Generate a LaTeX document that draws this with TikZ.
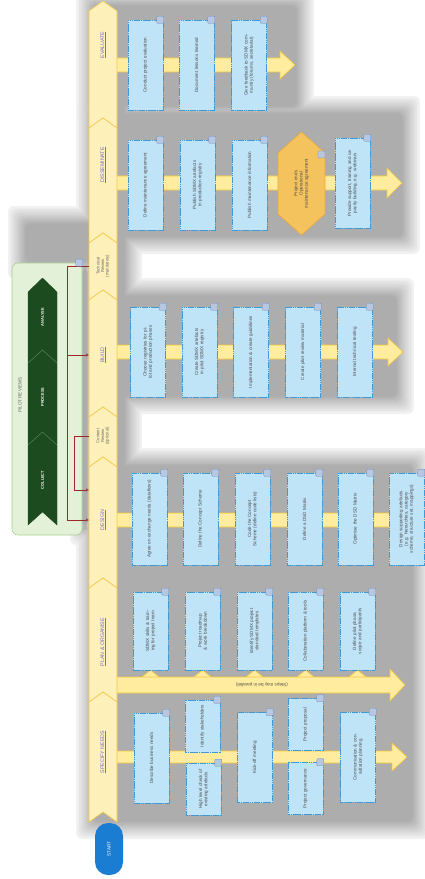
\documentclass[tikz,border=0pt]{standalone}
\usepackage{fontspec}
\setmainfont{Liberation Sans}
\usetikzlibrary{arrows.meta}
\definecolor{barfill}{HTML}{FDF1B9}
\definecolor{barline}{HTML}{F3C94A}
\definecolor{flowfill}{HTML}{FFEC9E}
\definecolor{flowline}{HTML}{F5C63E}
\definecolor{tilefill}{HTML}{BFE3F7}
\definecolor{tileline}{HTML}{3C9AD9}
\definecolor{hexfill}{HTML}{F4C35E}
\definecolor{hexline}{HTML}{E9AA3A}
\definecolor{phasetext}{HTML}{7C6AD0}
\definecolor{pilotfill}{HTML}{E3F1D8}
\definecolor{pilotline}{HTML}{A6CF8B}
\definecolor{chevfill}{HTML}{1D4B20}
\definecolor{chevline}{HTML}{5C8A55}
\definecolor{linkred}{HTML}{9A2A2A}
\definecolor{startblue}{HTML}{1B7DD2}
\definecolor{iconfill}{HTML}{B7C7E2}
\definecolor{iconline}{HTML}{6E86B5}
\begin{document}
\begin{tikzpicture}
  [x=0.05cm, y=-0.05cm,
   barseg/.style={fill=barfill, draw=barline, line width=0.9pt},
   flow/.style={fill=flowfill, draw=flowline, line width=0.9pt},
   phase/.style={rotate=90, minimum height=1.4cm, inner sep=0pt, text=phasetext, font=\fontsize{7.5}{8}\selectfont},
   review/.style={rotate=90, minimum height=1.4cm, inner sep=0pt, align=center, text=black!60, font=\fontsize{6}{6.5}\selectfont},
   tile/.style={rotate=90, fill=tilefill, draw=tileline, line width=0.9pt, dash pattern=on 2pt off 0.6pt, minimum width=4.5cm, minimum height=1.75cm, text width=4cm, align=center, inner sep=1pt, text=black!70, font=\fontsize{6.5}{7.5}\selectfont},
   short/.style={minimum width=2.6cm, text width=2.3cm},
   icon/.style={fill=iconfill, draw=iconline, line width=0.4pt, rounded corners=1pt},
   link/.style={draw=linkred, line width=0.7pt},
   tip/.style={-{Triangle[length=4pt, width=4.5pt, fill=pink!60]}},
   stage/.style={rotate=90, text=white, font=\fontsize{5.5}{6}\selectfont\bfseries}]

  \useasboundingbox (0,0) rectangle (424,879);

  \foreach \k [evaluate=\k as \g using int(5+2.5*\k)] in {0,...,11}
    \foreach \xa/\ya/\xb/\yb in {76/-12/314/124, 76/96/420/254, 8/206/142/279, 70/250/100/545, 76/278/414/414, 76/448/430/839, 84/-12/142/839}
      \fill[black!\g, rounded corners=0.3cm] (\xa+1.6*\k,\ya+1.6*\k) rectangle (\xb-1.6*\k,\yb-1.6*\k);

  \foreach \y/\tip/\s/\h in {65/295/7/14, 183/402/7/15, 352/403/7/14, 520/430/7/14, 757/407/6/14}
    \filldraw[flow] (112,\y-\s) -- (\tip-15,\y-\s) -- (\tip-15,\y-\h) -- (\tip,\y) -- (\tip-15,\y+\h) -- (\tip-15,\y+\s) -- (112,\y+\s) -- cycle;
  \foreach \x in {150.5,202.5,254.5,305.5,357.5}
    \filldraw[flow] (\x-11,679) -- (\x,670) -- (\x+11,679) -- cycle;
  \filldraw[flow] (112,677) -- (390,677) -- (390,669) -- (405,685) -- (390,701) -- (390,693) -- (112,693) -- cycle;
  \node[rotate=180, text=black!70, font=\fontsize{6.5}{7}\selectfont] (parallel) at (262,685) {(Steps may be in parallel)};

  \foreach \t/\b in {1/118, 118/233, 233/290, 290/407, 407/457, 457/578, 578/692, 692/812}
    \filldraw[barseg] (89,\t+10) -- (103,\t) -- (117,\t+10) -- (117,\b+10) -- (103,\b) -- (89,\b+10) -- cycle;

  \node[phase] (evaluate) at (103,45) {\underline{EVALUATE}};
  \node[phase] (disseminate) at (103,165) {\underline{DISSEMINATE}};
  \node[review] (techrev) at (103,266) {Technical\\Review\\(mandatory)};
  \node[phase] (build) at (103,355) {\underline{BUILD}};
  \node[review] (contrev) at (103,436) {Content\\Review\\(optional)};
  \node[phase] (design) at (103,520) {\underline{DESIGN}};
  \node[phase] (plan) at (103,642) {\underline{PLAN \& ORGANISE}};
  \node[phase] (specify) at (103,752) {\underline{SPECIFY NEEDS}};

  \node[rotate=90, fill=startblue, rounded corners=0.65cm, minimum width=2.6cm, minimum height=1.4cm, text=white, font=\fontsize{6.5}{7}\selectfont] (start) at (109,849) {START};

  \node[rotate=90, fill=pilotfill, draw=pilotline, line width=0.8pt, rounded corners=0.3cm, minimum width=13.6cm, minimum height=3.5cm] (pilot) at (47,399) {};
  \node[rotate=90, text=black!60, font=\fontsize{6.5}{7}\selectfont] (pilottitle) at (20,395) {PILOT REVIEWS};
  \filldraw[fill=chevfill, draw=chevfill] (28,292) -- (42.5,278) -- (57,292) -- (57,525) -- (42.5,512) -- (28,525) -- cycle;
  \draw[chevline, line width=0.6pt] (28,363) -- (42.5,350) -- (57,363);
  \draw[chevline, line width=0.6pt] (28,445) -- (42.5,432) -- (57,445);
  \node[stage] (analyse) at (42.5,317) {ANALYSE};
  \node[stage] (process) at (42.5,397) {PROCESS};
  \node[stage] (collect) at (42.5,480) {COLLECT};

  \draw[link] (techrev.north) -- ++(-22,0) coordinate (trjoin);
  \draw[link, tip] (trjoin) |- (build.north);
  \draw[link, tip] (trjoin) |- (design.north);
  \draw[link, tip] (contrev.north) -- ++(-15,0) |- ([yshift=1.5cm]design.north);

  \node[tile] (e1) at (145.5,65) {Conduct project evaluation};
  \node[tile] (e2) at (196.5,65) {Document lessons learned};
  \node[tile] (e3) at (249,65) {Give feedback to SDMX community (forums, secretariat)};

  \node[tile] (d1) at (145.5,185) {Define maintenance agreement};
  \node[tile] (d2) at (197.5,185) {Publish SDMX artefacts in production registry};
  \node[tile] (d3) at (249.5,185) {Publish maintenance information};
  \filldraw[fill=hexfill, draw=hexline, line width=0.9pt] (301.5,132) -- (325,153) -- (325,214) -- (301.5,235) -- (278,214) -- (278,153) -- cycle;
  \node[rotate=90, text width=2.6cm, align=center, text=black!70, font=\fontsize{6.5}{7.5}\selectfont] (d4) at (301.5,183.5) {Project ends\\Operational\\maintenance agreement};
  \node[tile] (d5) at (352.5,183) {Provide support, training and capacity building, e.g. webinars};

  \node[tile] (b1) at (148,352) {Choose registries for pilot and production phases};
  \node[tile] (b2) at (199.5,352) {Create SDMX artefacts in pilot SDMX registry};
  \node[tile] (b3) at (251,352) {Implementation \& create guidelines};
  \node[tile] (b4) at (303,352) {Create pilot review material};
  \node[tile] (b5) at (355,352) {Internal technical testing};

  \node[tile, minimum width=4.6cm] (g1) at (149.5,519) {Agree on exchange needs (dataflows)};
  \node[tile, minimum width=4.6cm] (g2) at (200.5,519) {Define the Concept Scheme};
  \node[tile, minimum width=4.6cm] (g3) at (252.5,519) {Code the Concept Scheme (define code lists)};
  \node[tile, minimum width=4.6cm] (g4) at (304.5,519) {Define a DSD Matrix};
  \node[tile, minimum width=4.6cm] (g5) at (355.5,519) {Optimise the DSD Matrix};
  \node[tile, minimum width=4.6cm] (g6) at (406.5,519) {Design supporting artefacts (e.g. hierarchies, category scheme, structure set, mappings)};

  \node[tile, minimum width=3.9cm, text width=3.5cm] (p1) at (150.5,631) {SDMX skills \& training for project team};
  \node[tile, minimum width=3.9cm, text width=3.5cm] (p2) at (202.5,631) {Project roadmap \& work breakdown};
  \node[tile, minimum width=3.9cm, text width=3.5cm] (p3) at (254.5,631) {Identify SDMX project standard templates};
  \node[tile, minimum width=3.9cm, text width=3.5cm] (p4) at (305.5,631) {Collaboration platform \& tools};
  \node[tile, minimum width=3.9cm, text width=3.5cm] (p5) at (357.5,631) {Define pilot phase, scope and participants};

  \node[tile] (s1) at (151.5,758) {Describe business needs};
  \node[tile, short] (s2) at (202.5,726) {Identify stakeholders};
  \node[tile, short] (s3) at (203.5,789) {High level check of existing artefacts};
  \node[tile] (s4) at (255,757.5) {Kick-off meeting};
  \node[tile, short] (s5) at (305.5,724.5) {Project proposal};
  \node[tile, short] (s6) at (305.5,788.5) {Project governance};
  \node[tile] (s7) at (358,757) {Communication \& consultation planning};

  \foreach \n in {e1,e2,e3,d1,d2,d3,d5,b1,b2,b3,b4,b5,g1,g2,g3,g4,g5,g6,p1,p2,p3,p4,p5,s1,s2,s3,s4,s5,s6,s7,pilot}
    \filldraw[icon] ([shift={(-6.5,-3.5)}]\n.south east) rectangle ++(7,7);
  \filldraw[icon] (318,151) rectangle ++(7,7);
\end{tikzpicture}
\end{document}
